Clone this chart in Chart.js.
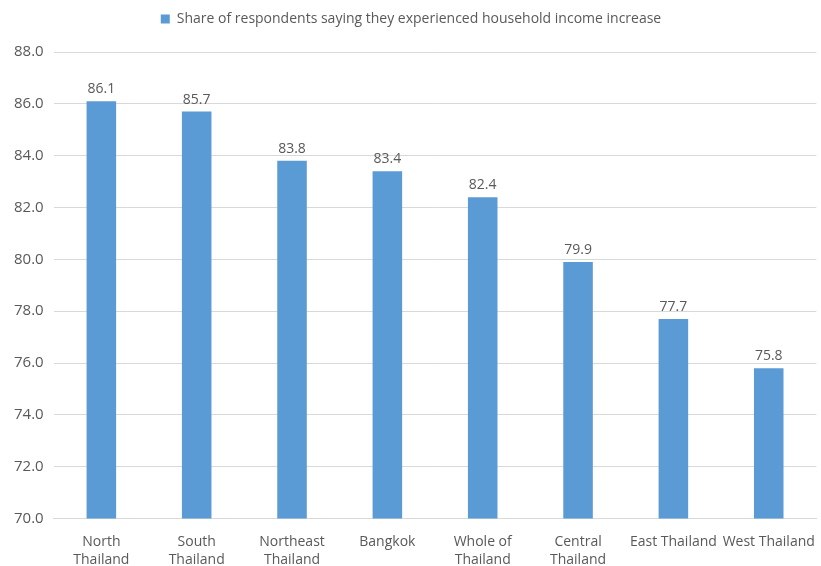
<!DOCTYPE html>
<html>
<head>
<meta charset="utf-8">
<script src="https://cdn.jsdelivr.net/npm/chart.js@4/dist/chart.umd.min.js"></script>
<style>
  html, body { margin: 0; padding: 0; background: #fff; }
  #c { display: block; }
</style>
</head>
<body>
<canvas id="c" width="821" height="566"></canvas>
<script>
var regions = [["North", "Thailand"], ["South", "Thailand"], ["Northeast", "Thailand"], "Bangkok",
               ["Whole of", "Thailand"], ["Central", "Thailand"], "East Thailand", "West Thailand"];
var shareValues = [86.1, 85.7, 83.8, 83.4, 82.4, 79.9, 77.7, 75.8];
var seriesName = "Share of respondents saying they experienced household income increase";
var yMin = 70, yMax = 88, yStep = 2;

var textGray = "#595959";
var barBlue = "#5B9BD5";
var fontName = "'Open Sans', 'Noto Sans', sans-serif";

// draw the value above each bar
var valueLabels = {
    id: "valueLabels",
    afterDatasetsDraw: function (chart) {
        var ctx = chart.ctx;
        var meta = chart.getDatasetMeta(0);
        ctx.save();
        ctx.fillStyle = textGray;
        ctx.font = "14px " + fontName;
        ctx.textAlign = "center";
        ctx.textBaseline = "bottom";
        meta.data.forEach(function (bar, i) {
            ctx.fillText(shareValues[i].toFixed(1), bar.x, bar.y - 5);
        });
        ctx.restore();
    }
};

// extra gap under the legend
var legendGap = {
    id: "legendGap",
    beforeInit: function (chart) {
        var origFit = chart.legend.fit;
        chart.legend.fit = function () {
            origFit.call(this);
            this.height += 16;
        };
    }
};

var chart = new Chart(document.getElementById("c"), {
    type: "bar",
    data: {
        labels: regions,
        datasets: [{
            label: seriesName,
            data: shareValues,
            backgroundColor: barBlue,
            categoryPercentage: 1,
            barPercentage: 0.31
        }]
    },
    options: {
        responsive: false,
        animation: false,
        layout: { padding: { left: 4, right: 3, top: 0, bottom: 0 } },
        plugins: {
            legend: {
                position: "top",
                labels: {
                    color: textGray,
                    font: { family: fontName, size: 14 },
                    boxWidth: 9,
                    boxHeight: 9,
                    padding: 12
                }
            },
            tooltip: { enabled: false }
        },
        scales: {
            x: {
                grid: { display: false },
                border: { color: "#d9d9d9" },
                afterFit: function (scale) { scale.height -= 9; },
                ticks: {
                    color: textGray,
                    font: { family: fontName, size: 14, lineHeight: 1.3 },
                    maxRotation: 0,
                    autoSkip: false,
                    padding: 6
                }
            },
            y: {
                min: yMin,
                max: yMax,
                grid: { color: "#d9d9d9", drawTicks: false },
                border: { display: false },
                ticks: {
                    stepSize: yStep,
                    color: textGray,
                    font: { family: fontName, size: 15 },
                    padding: 10,
                    callback: function (v) { return v.toFixed(1); }
                }
            }
        }
    },
    plugins: [valueLabels, legendGap]
});
</script>
</body>
</html>
